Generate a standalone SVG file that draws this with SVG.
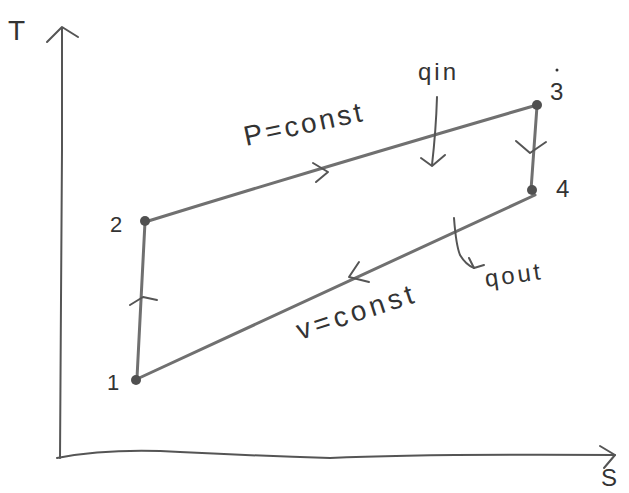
<svg xmlns="http://www.w3.org/2000/svg" width="629" height="493" viewBox="0 0 629 493">
<style>
.ax{fill:none;stroke:#555;stroke-width:2;stroke-linecap:round;stroke-linejoin:round}
.ln{fill:none;stroke:#707070;stroke-width:3;stroke-linecap:round;stroke-linejoin:round}
.ch{fill:none;stroke:#555;stroke-width:2;stroke-linecap:round;stroke-linejoin:round}
.dot{fill:#505050}
.t{font-family:"Liberation Sans",Arial,sans-serif;fill:#333}
</style>
<rect width="629" height="493" fill="#ffffff"/>
<g id="axes">
<path class="ax" d="M60,458 L61,300 L62,150 L62,28"/>
<path class="ax" d="M47,42 L62,27 L78,37"/>
<path class="ax" d="M57,458 Q110,448 180,452 Q260,456 330,458 Q420,454 615,455"/>
<path class="ax" d="M600,446 L615,455 L604,468"/>
<text class="t" x="8" y="40" font-size="28">T</text>
<text class="t" x="601" y="486" font-size="24">S</text>
</g>
<g id="connectors">
<path class="ln" d="M145,222 Q330,165 537,105"/>
<path class="ln" d="M537,106 L531,190"/>
<path class="ln" d="M535,195 Q340,285 137,379"/>
<path class="ln" d="M137,378 L145,222"/>
<path class="ch" d="M130,305 L143,297 L157,300"/>
<path class="ch" d="M313,163 L328,172 L316,182"/>
<path class="ch" d="M516,141 L530,153 L546,142"/>
<path class="ch" d="M359,262 L349,277 L369,282"/>
<path class="ch" d="M437,97 Q436,130 432,165"/>
<path class="ch" d="M421,158 L432,166 L445,155"/>
<path class="ch" d="M454,218 Q456,245 460,255 Q466,265 474,268"/>
<path class="ch" d="M469,258 L474,268 L484,265"/>
</g>
<g id="node1"><circle class="dot" cx="136" cy="380" r="5"/><text class="t" x="107" y="390" font-size="22">1</text></g>
<g id="node2"><circle class="dot" cx="145" cy="221" r="5"/><text class="t" x="110" y="232" font-size="22">2</text></g>
<g id="node3"><circle class="dot" cx="537" cy="105" r="5"/><text class="t" x="550" y="100" font-size="24">3</text><circle cx="557" cy="70" r="1.5" fill="#333"/></g>
<g id="node4"><circle class="dot" cx="532" cy="190" r="5"/><text class="t" x="556" y="197" font-size="24">4</text></g>
<g id="labels">
<text class="t" x="246" y="146" font-size="28" letter-spacing="3" transform="rotate(-12 246 146)">P=const</text>
<text class="t" x="418" y="80" font-size="24" letter-spacing="3">qin</text>
<text class="t" x="300" y="340" font-size="28" letter-spacing="4" transform="rotate(-18 300 340)">v=const</text>
<text class="t" x="486" y="287" font-size="24" letter-spacing="3" transform="rotate(-8 486 287)">qout</text>
</g>
</svg>
